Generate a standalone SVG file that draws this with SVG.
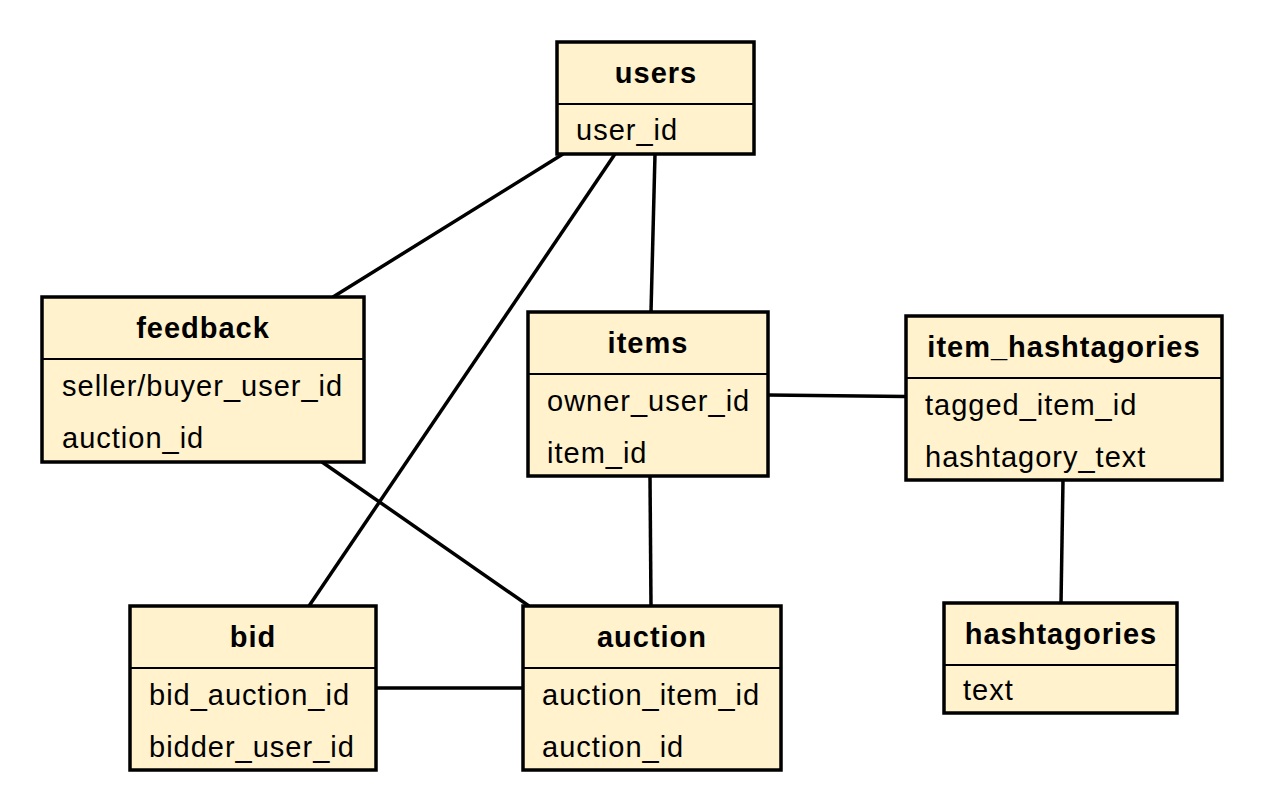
<svg xmlns="http://www.w3.org/2000/svg" width="1264" height="812" viewBox="0 0 1264 812">
<style>
.box{fill:#FFF2CC;stroke:#000;stroke-width:3.5}
.div{stroke:#000;stroke-width:2}
.title{font-family:"Liberation Sans",Arial,sans-serif;font-size:29px;font-weight:bold;letter-spacing:1px;text-anchor:middle;fill:#000}
.field{font-family:"Liberation Sans",Arial,sans-serif;font-size:29px;letter-spacing:1px;fill:#000}
.conn line{stroke:#000;stroke-width:3.5;stroke-linecap:butt}
</style>
<rect width="1264" height="812" fill="#fff"/>
<g id="connectors" class="conn">
<line x1="563" y1="154" x2="333" y2="297"/>
<line x1="615" y1="154" x2="309" y2="606"/>
<line x1="655" y1="154" x2="651" y2="312"/>
<line x1="322" y1="462" x2="529" y2="606"/>
<line x1="768" y1="395" x2="906" y2="396.5"/>
<line x1="650" y1="476" x2="651" y2="606"/>
<line x1="1063" y1="480" x2="1061" y2="603"/>
<line x1="376" y1="688" x2="523" y2="688"/>
</g>
<g id="users">
<rect class="box" x="557" y="42" width="197" height="112"/>
<line class="div" x1="557" y1="104" x2="754" y2="104"/>
<text class="title" x="656" y="83">users</text>
<text class="field" x="576" y="140">user_id</text>
</g>
<g id="feedback">
<rect class="box" x="42" y="297" width="322" height="165"/>
<line class="div" x1="42" y1="359" x2="364" y2="359"/>
<text class="title" x="203" y="338">feedback</text>
<text class="field" x="62" y="396">seller/buyer_user_id</text>
<text class="field" x="62" y="448">auction_id</text>
</g>
<g id="items">
<rect class="box" x="528" y="312" width="240" height="164"/>
<line class="div" x1="528" y1="374" x2="768" y2="374"/>
<text class="title" x="648" y="353">items</text>
<text class="field" x="547" y="411">owner_user_id</text>
<text class="field" x="547" y="463">item_id</text>
</g>
<g id="item_hashtagories">
<rect class="box" x="906" y="316" width="316" height="164"/>
<line class="div" x1="906" y1="378" x2="1222" y2="378"/>
<text class="title" x="1064" y="357">item_hashtagories</text>
<text class="field" x="925" y="415">tagged_item_id</text>
<text class="field" x="925" y="467">hashtagory_text</text>
</g>
<g id="bid">
<rect class="box" x="130" y="606" width="246" height="164"/>
<line class="div" x1="130" y1="668" x2="376" y2="668"/>
<text class="title" x="253" y="647">bid</text>
<text class="field" x="149" y="705">bid_auction_id</text>
<text class="field" x="149" y="757">bidder_user_id</text>
</g>
<g id="auction">
<rect class="box" x="523" y="606" width="258" height="164"/>
<line class="div" x1="523" y1="668" x2="781" y2="668"/>
<text class="title" x="652" y="647">auction</text>
<text class="field" x="542" y="705">auction_item_id</text>
<text class="field" x="542" y="757">auction_id</text>
</g>
<g id="hashtagories">
<rect class="box" x="944" y="603" width="233" height="110"/>
<line class="div" x1="944" y1="665" x2="1177" y2="665"/>
<text class="title" x="1061" y="644">hashtagories</text>
<text class="field" x="963" y="700">text</text>
</g>
</svg>
